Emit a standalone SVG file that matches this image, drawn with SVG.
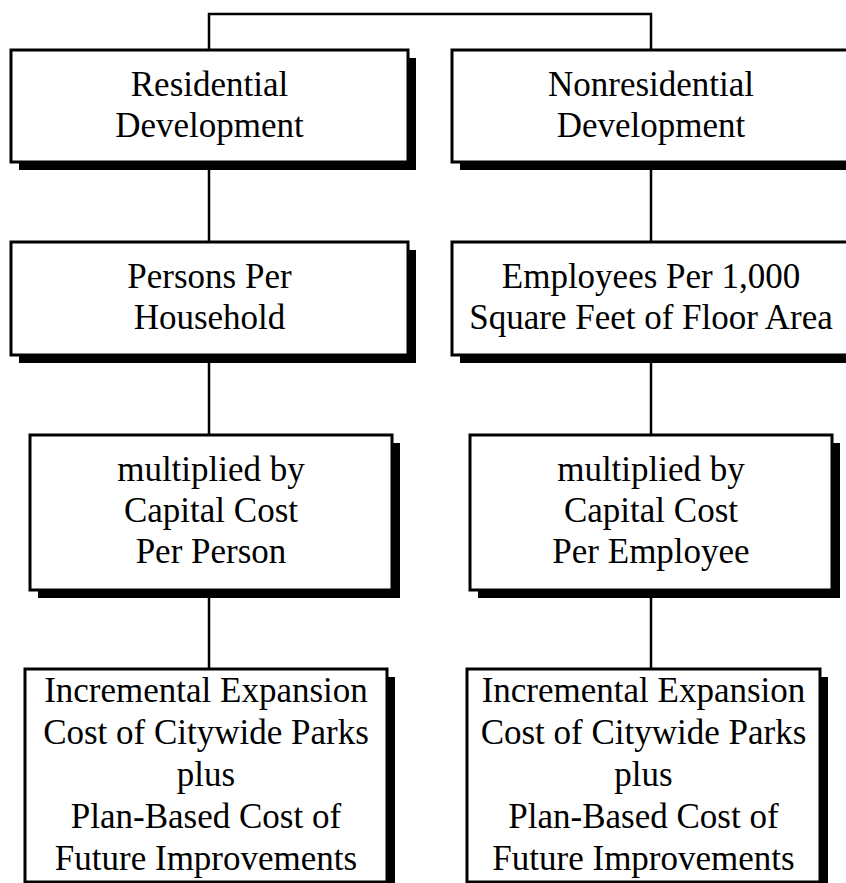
<svg xmlns="http://www.w3.org/2000/svg" width="846" height="883" viewBox="0 0 846 883">
<style>
.box{fill:#fff;stroke:#000;stroke-width:3}
.sh{fill:#000}
.conn{fill:none;stroke:#000;stroke-width:2.5}
text{font-family:"Liberation Serif","Times New Roman",serif;font-size:35px;fill:#000;text-anchor:middle}
</style>
<rect width="846" height="883" fill="#fff"/>
<g id="connectors">
<path class="conn" d="M209,50 V14 H651 V50"/>
<path class="conn" d="M209,162 V242"/>
<path class="conn" d="M651,162 V242"/>
<path class="conn" d="M209,355 V435"/>
<path class="conn" d="M651,355 V435"/>
<path class="conn" d="M209,590 V669"/>
<path class="conn" d="M651,590 V669"/>
</g>
<g id="residential">
<rect class="sh" x="19" y="58" width="397" height="112"/>
<rect class="box" x="11" y="50" width="397" height="112"/>
<text x="209.5" y="96">Residential</text>
<text x="209.5" y="137">Development</text>
</g>
<g id="nonresidential">
<rect class="sh" x="460" y="58" width="398" height="112"/>
<rect class="box" x="452" y="50" width="398" height="112"/>
<text x="651" y="96">Nonresidential</text>
<text x="651" y="137">Development</text>
</g>
<g id="persons">
<rect class="sh" x="19" y="250" width="397" height="113"/>
<rect class="box" x="11" y="242" width="397" height="113"/>
<text x="209.5" y="288">Persons Per</text>
<text x="209.5" y="329">Household</text>
</g>
<g id="employees">
<rect class="sh" x="460" y="250" width="398" height="113"/>
<rect class="box" x="452" y="242" width="398" height="113"/>
<text x="651" y="288">Employees Per 1,000</text>
<text x="651" y="329">Square Feet of Floor Area</text>
</g>
<g id="costperson">
<rect class="sh" x="38" y="443" width="362" height="155"/>
<rect class="box" x="30" y="435" width="362" height="155"/>
<text x="211" y="481">multiplied by</text>
<text x="211" y="522">Capital Cost</text>
<text x="211" y="563">Per Person</text>
</g>
<g id="costemployee">
<rect class="sh" x="478" y="443" width="362" height="155"/>
<rect class="box" x="470" y="435" width="362" height="155"/>
<text x="651" y="481">multiplied by</text>
<text x="651" y="522">Capital Cost</text>
<text x="651" y="563">Per Employee</text>
</g>
<g id="parksres">
<rect class="sh" x="33" y="677" width="362" height="213"/>
<rect class="box" x="25" y="669" width="362" height="213"/>
<text x="206" y="702">Incremental Expansion</text>
<text x="206" y="744">Cost of Citywide Parks</text>
<text x="206" y="786">plus</text>
<text x="206" y="828">Plan-Based Cost of</text>
<text x="206" y="870">Future Improvements</text>
</g>
<g id="parksnonres">
<rect class="sh" x="475" y="677" width="353" height="213"/>
<rect class="box" x="467" y="669" width="353" height="213"/>
<text x="643.5" y="702">Incremental Expansion</text>
<text x="643.5" y="744">Cost of Citywide Parks</text>
<text x="643.5" y="786">plus</text>
<text x="643.5" y="828">Plan-Based Cost of</text>
<text x="643.5" y="870">Future Improvements</text>
</g>
</svg>
